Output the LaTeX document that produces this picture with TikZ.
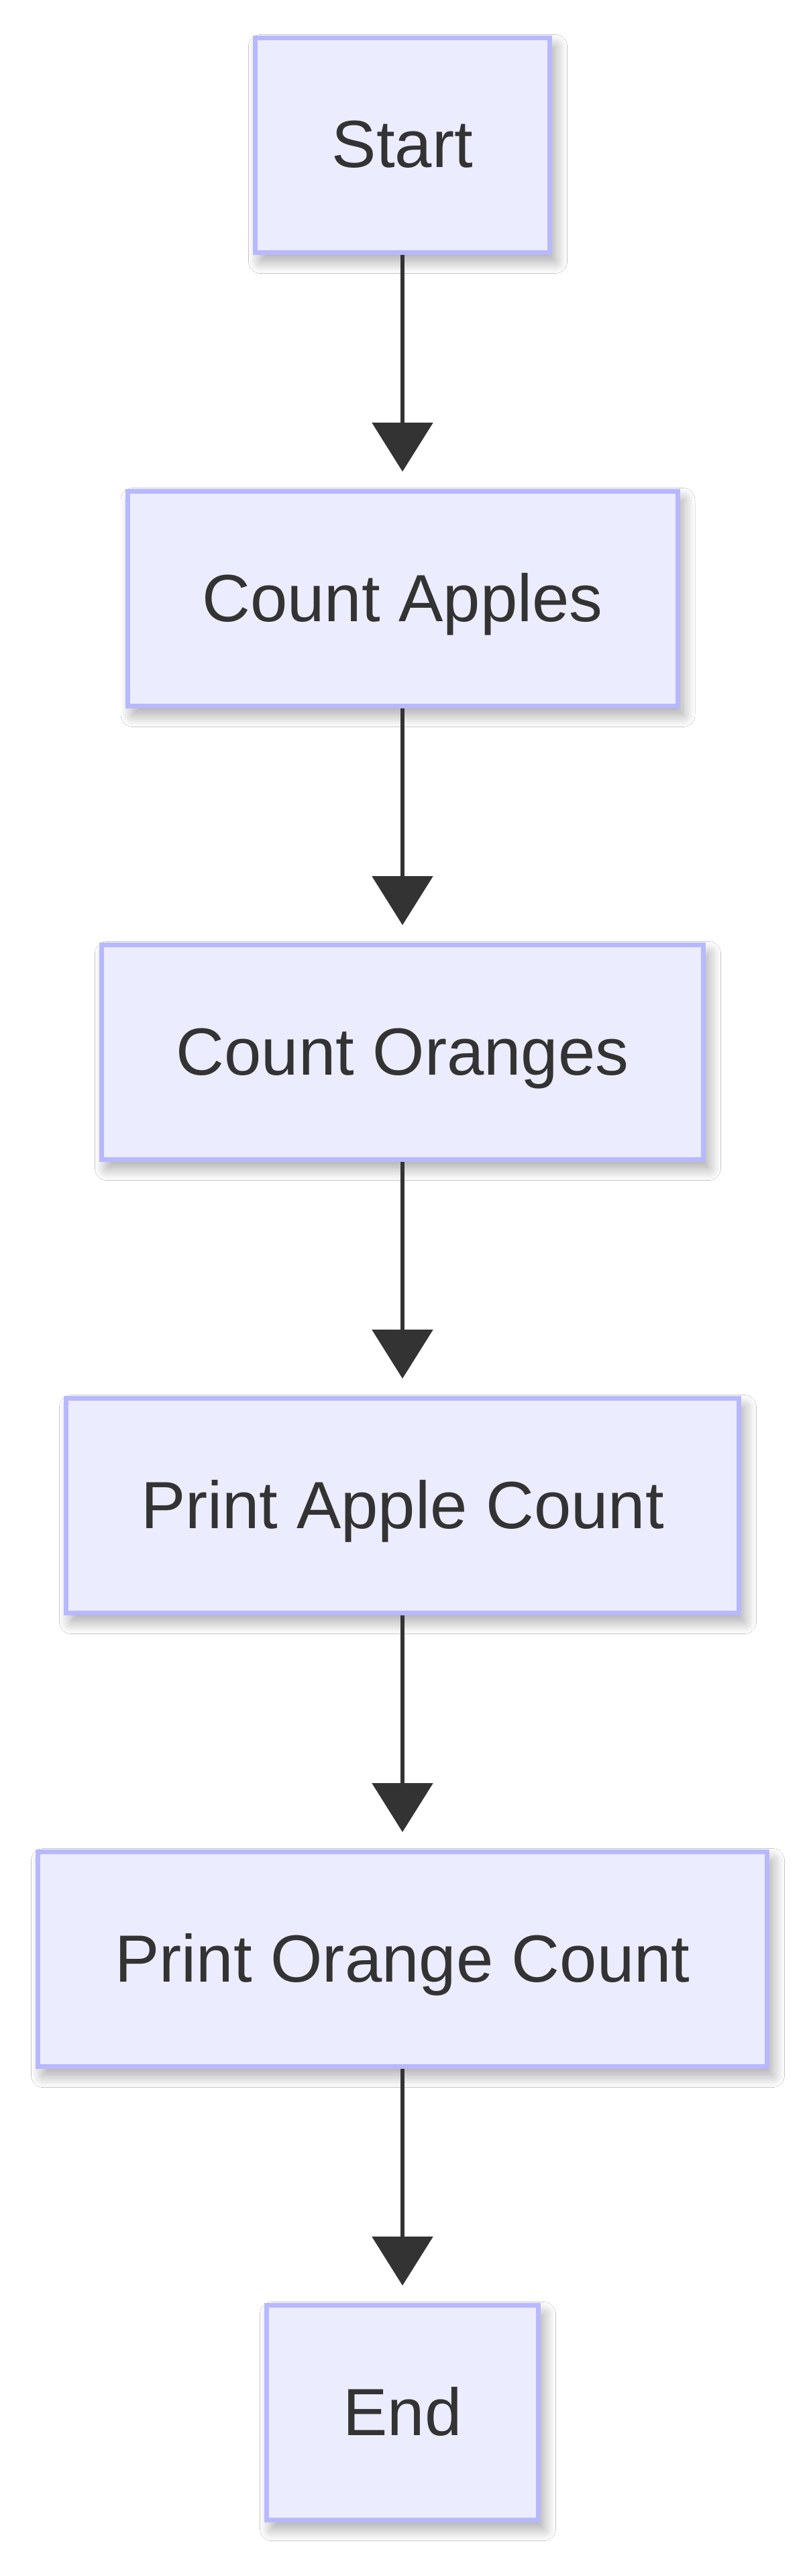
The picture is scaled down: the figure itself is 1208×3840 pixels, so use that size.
\documentclass[tikz,border=0pt]{standalone}
\usepackage{fontspec}
\setmainfont{Liberation Sans}
\usetikzlibrary{arrows.meta,shadows.blur}
\definecolor{boxfill}{HTML}{ECECFF}
\definecolor{boxline}{HTML}{B8B8FF}
\definecolor{ink}{HTML}{333333}
\tikzset{
  flowbox/.style={draw=boxline, fill=boxfill, line width=7pt, rectangle,
    minimum height=320pt, inner sep=0pt, text=ink,
    font=\fontsize{99.5}{120}\selectfont, text height=67pt, text depth=0pt,
    blur shadow={shadow xshift=8pt, shadow yshift=-13pt, shadow blur radius=18pt,
      shadow blur steps=24, shadow opacity=36}},
  flowarrow/.style={draw=ink, line width=6pt,
    -{Triangle[length=73pt, width=90pt]}, shorten >=26pt}
}
\begin{document}
\begin{tikzpicture}[x=1pt, y=-1pt]
\fill[white] (0,0) rectangle (1208,3840);
\useasboundingbox (0,0) rectangle (1208,3840);
\node[flowbox, minimum width=439pt]  (start)   at (600,216.5)  {Start};
\node[flowbox, minimum width=820pt]  (apples)  at (600,892.5)  {Count Apples};
\node[flowbox, minimum width=897pt]  (oranges) at (600,1568.5) {Count Oranges};
\node[flowbox, minimum width=1003pt] (papple)  at (600,2244.5) {Print Apple Count};
\node[flowbox, minimum width=1087pt] (porange) at (600,2920.5) {Print Orange Count};
\node[flowbox, minimum width=405pt]  (finish)  at (600,3596.5) {End};
\draw[flowarrow] (start.south) -- (apples.north);
\draw[flowarrow] (apples.south) -- (oranges.north);
\draw[flowarrow] (oranges.south) -- (papple.north);
\draw[flowarrow] (papple.south) -- (porange.north);
\draw[flowarrow] (porange.south) -- (finish.north);
\end{tikzpicture}
\end{document}
